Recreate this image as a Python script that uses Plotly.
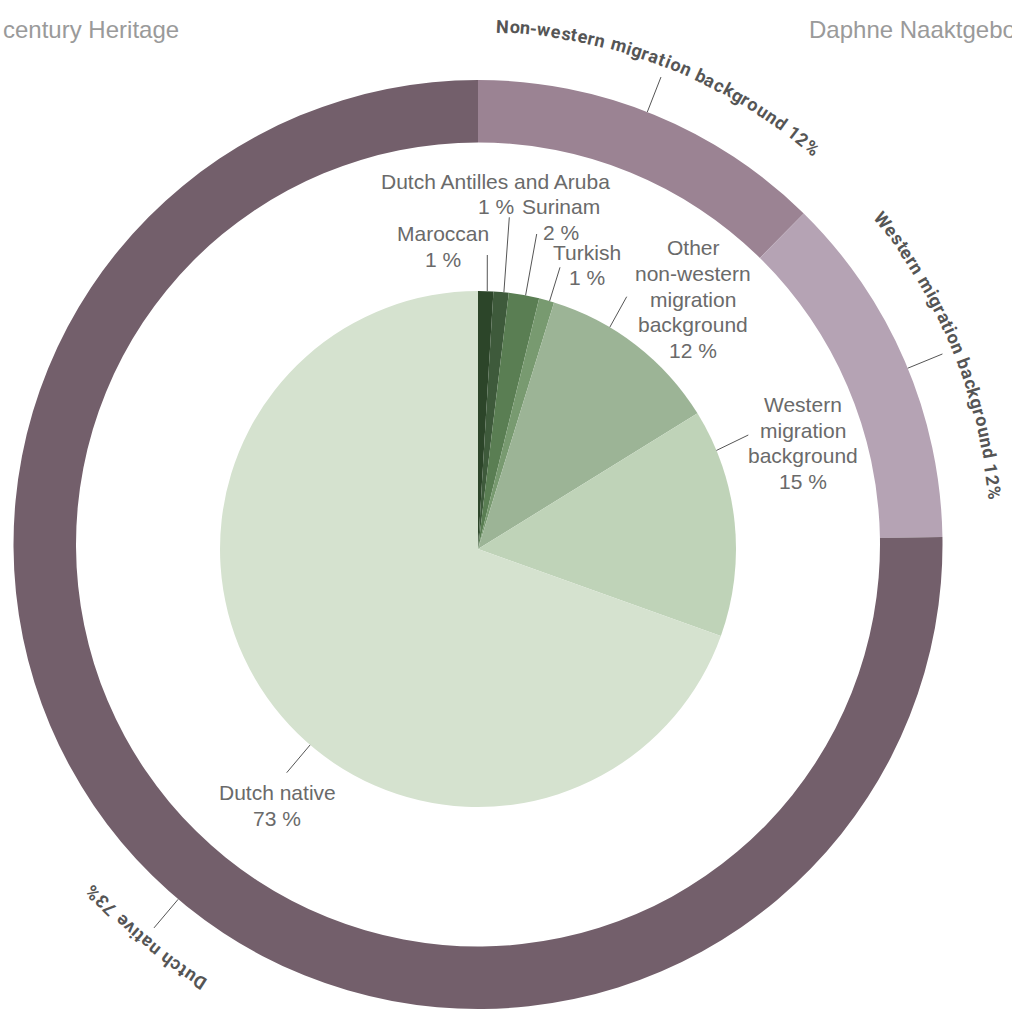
import math
import plotly.graph_objects as go

W, H = 1012, 1011

# ---- data -------------------------------------------------------------
inner_names = [
    "Maroccan",
    "Dutch Antilles and Aruba",
    "Surinam",
    "Turkish",
    "Other<br>non-western<br>migration<br>background",
    "Western<br>migration<br>background",
    "Dutch native",
]
inner_values = [1, 1, 2, 1, 12, 15, 73]

outer_names = [
    "Non-western migration background",
    "Western migration background",
    "Dutch native",
]
outer_values = [12, 12, 73]

header_left = "century Heritage"
header_right = "Daphne Naaktgeboren"

# ---- styling ----------------------------------------------------------
inner_colors = ["#2c4529", "#3e5a3b", "#5a7e53", "#789a70",
                "#9cb496", "#bfd3b8", "#d5e2cf"]
outer_colors = ["#9b8393", "#b5a3b4", "#735f6b"]

# ring geometry (pixels)
RING_C = (478.0, 544.5)
RING_R = 464.5
RING_R_IN = 402.0
# inner pie geometry (pixels)
PIE_C = (478.0, 549.0)
PIE_R = 258.0

INNER_FONT = "Liberation Sans, Arial, sans-serif"
INNER_SIZE = 21
LINE_STEP = 25.5
OUTER_FONT = "Roboto, Inter, sans-serif"
INNER_TXT = "#6a6a6a"
OUTER_TXT = "#555555"
LINE_COL = "#555555"

# where along each slice the leader line sits (fraction of slice span)
inner_leader_frac = [0.60, 0.68, 0.55, 0.70, 0.33, 0.18, 0.443]
# outer end of each inner leader line and the label centre (pixels)
inner_leader_end = [(487.3, 255), (509.3, 217.3), (536.7, 234), (560, 267.3),
                    (626.7, 296.7), (748.3, 435), (286.7, 772.7)]
inner_label_pos = [(442.5, 246.5), (495.5, 194), (561, 219.5), (587, 265),
                   (693, 299), (803, 443), (277, 805.5)]

outer_leader_frac = [0.48, 0.52, 0.484]


def to_paper(x, y):
    return x / W, 1 - y / H


def polar(c, r, deg):
    a = math.radians(deg)
    return c[0] + r * math.sin(a), c[1] - r * math.cos(a)


def slice_angles(values):
    tot = float(sum(values))
    out, acc = [], 0.0
    for v in values:
        start = acc / tot * 360
        acc += v
        out.append((start, acc / tot * 360))
    return out


def domain(c, r):
    x0, y0 = to_paper(c[0] - r, c[1] + r)
    x1, y1 = to_paper(c[0] + r, c[1] - r)
    return dict(x=[x0, x1], y=[y0, y1])


fig = go.Figure()

fig.add_trace(go.Pie(
    values=outer_values, labels=outer_names, sort=False,
    direction="clockwise", rotation=0, hole=RING_R_IN / RING_R,
    marker=dict(colors=outer_colors, line=dict(width=0)),
    textinfo="none", hoverinfo="label+value", showlegend=False,
    domain=domain(RING_C, RING_R),
))

fig.add_trace(go.Pie(
    values=inner_values, labels=[n.replace("<br>", " ") for n in inner_names],
    sort=False, direction="clockwise", rotation=0,
    marker=dict(colors=inner_colors, line=dict(width=0)),
    textinfo="none", hoverinfo="label+value", showlegend=False,
    domain=domain(PIE_C, PIE_R),
))

shapes, annotations = [], []


def add_line(p0, p1):
    x0, y0 = to_paper(*p0)
    x1, y1 = to_paper(*p1)
    shapes.append(dict(type="line", xref="paper", yref="paper",
                       x0=x0, y0=y0, x1=x1, y1=y1,
                       line=dict(color=LINE_COL, width=1)))


# inner labels with leader lines; each text line placed on its own
for (a0, a1), frac, end, pos, name, val in zip(
        slice_angles(inner_values), inner_leader_frac, inner_leader_end,
        inner_label_pos, inner_names, inner_values):
    ang = a0 + frac * (a1 - a0)
    add_line(polar(PIE_C, PIE_R, ang), end)
    lines = name.split("<br>") + [f"{val} %"]
    top = pos[1] - LINE_STEP * (len(lines) - 1) / 2
    for k, line in enumerate(lines):
        x, y = to_paper(pos[0], top + k * LINE_STEP)
        annotations.append(dict(
            x=x, y=y, xref="paper", yref="paper", showarrow=False,
            xanchor="center", yanchor="middle", align="center", text=line,
            font=dict(family=INNER_FONT, size=INNER_SIZE, color=INNER_TXT)))

# approximate advance widths (em) for the bold ring captions
CHAR_W = {
    "a": .53, "b": .55, "c": .51, "d": .55, "e": .52, "g": .55, "h": .545,
    "i": .25, "k": .52, "m": .86, "n": .545, "o": .556, "r": .35, "s": .51,
    "t": .33, "u": .545, "v": .49, "w": .73, "N": .70, "W": .87, "D": .64,
    " ": .244, "-": .275, "%": .71,
}
CAP_SIZE = 18
CAP_SPACING = 1.0
CAP_R = 519.0


def curved_text(text, centre_deg):
    widths = [CHAR_W.get(ch, .562) * CAP_SIZE for ch in text]
    total = sum(widths) + CAP_SPACING * (len(text) - 1)
    pos = -total / 2
    for ch, w in zip(text, widths):
        mid = pos + w / 2
        pos += w + CAP_SPACING
        if ch == " ":
            continue
        deg = centre_deg + math.degrees(mid / CAP_R)
        px, py = polar(RING_C, CAP_R, deg)
        x, y = to_paper(px, py)
        ang = deg % 360
        if ang > 180:
            ang -= 360
        annotations.append(dict(
            x=x, y=y, xref="paper", yref="paper", showarrow=False,
            xanchor="center", yanchor="middle", text=ch, textangle=ang,
            font=dict(family=OUTER_FONT, size=CAP_SIZE, color=OUTER_TXT,
                      weight=700)))


for (a0, a1), frac, name, val in zip(slice_angles(outer_values),
                                     outer_leader_frac, outer_names,
                                     outer_values):
    ang = a0 + frac * (a1 - a0)
    add_line(polar(RING_C, RING_R, ang), polar(RING_C, 502, ang))
    curved_text(f"{name} {val}%", ang)

# page header texts
x, y = to_paper(181, 29)
annotations.append(dict(x=x, y=y, xref="paper", yref="paper", showarrow=False,
                        xanchor="right", yanchor="middle", text=header_left,
                        font=dict(family=INNER_FONT, size=24, color="#9a9a9a")))
x, y = to_paper(807, 29)
annotations.append(dict(x=x, y=y, xref="paper", yref="paper", showarrow=False,
                        xanchor="left", yanchor="middle", text=header_right,
                        font=dict(family=INNER_FONT, size=24, color="#9a9a9a")))

fig.update_layout(
    width=W, height=H, margin=dict(l=0, r=0, t=0, b=0),
    paper_bgcolor="white", plot_bgcolor="white", showlegend=False,
    shapes=shapes, annotations=annotations,
)

fig.write_html("out.html")
